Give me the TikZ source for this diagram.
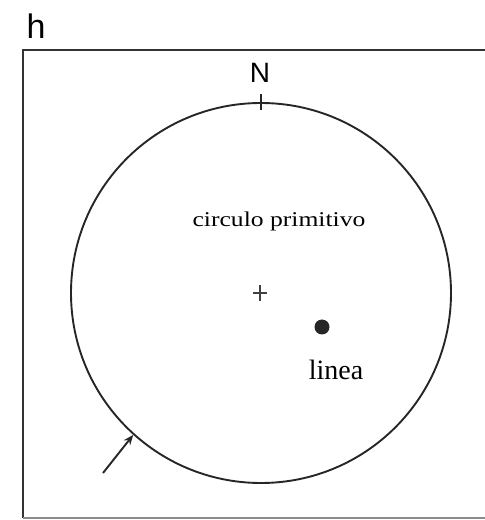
\documentclass[tikz,border=0pt]{standalone}
\usepackage{fontspec}
\setmainfont{Liberation Serif}
\newfontfamily\labelsans{Liberation Sans}
\usetikzlibrary{arrows.meta}
\begin{document}
\begin{tikzpicture}[x=1pt,y=1pt,
  frameline/.style={line width=2.2pt,draw=black!80},
  thinline/.style={line width=1.9pt,draw=black!85}]
\useasboundingbox (0,0) rectangle (485,520);
% frame
\coordinate (fbl) at (23,2);
\coordinate (ftl) at (23,470);
\coordinate (ftr) at (485,470);
\coordinate (fbr) at (485,2);
\draw[frameline] (fbl) -- (ftl) -- (ftr);
\draw[line width=2.2pt,draw=black!45] (fbl) -- (fbr);
\node[font=\labelsans\fontsize{34}{34}\selectfont, inner sep=0] (h) at (36,494) {h};
% primitive circle
\node[circle, thinline, minimum size=380pt, inner sep=0] (prim) at (261,227) {};
\node[font=\labelsans\fontsize{28}{28}\selectfont, inner sep=0] (N) at (260,447) {N};
\draw[thinline] ([yshift=-8pt]prim.north) -- ([yshift=8pt]prim.north);
% centre plus
\coordinate (c) at (260,227);
\draw[line width=1.5pt,draw=black!75] ([xshift=-7pt]c) -- ([xshift=7pt]c) ([yshift=-8pt]c) -- ([yshift=8pt]c);
\node[font=\fontsize{21}{21}\selectfont, inner sep=0] (lbl) at (279,299) {\scalebox{1.22}[1]{circulo primitivo}};
\node[circle, fill=black!85, minimum size=15pt, inner sep=0] (dot) at (322,193) {};
\node[font=\fontsize{28}{28}\selectfont, inner sep=0] (linea) at (336,150) {linea};
% arrow
\coordinate (astart) at (103,47);
\draw[thinline, -{Stealth[length=10pt,width=8pt]}] (astart) -- (prim.228);
\end{tikzpicture}
\end{document}
